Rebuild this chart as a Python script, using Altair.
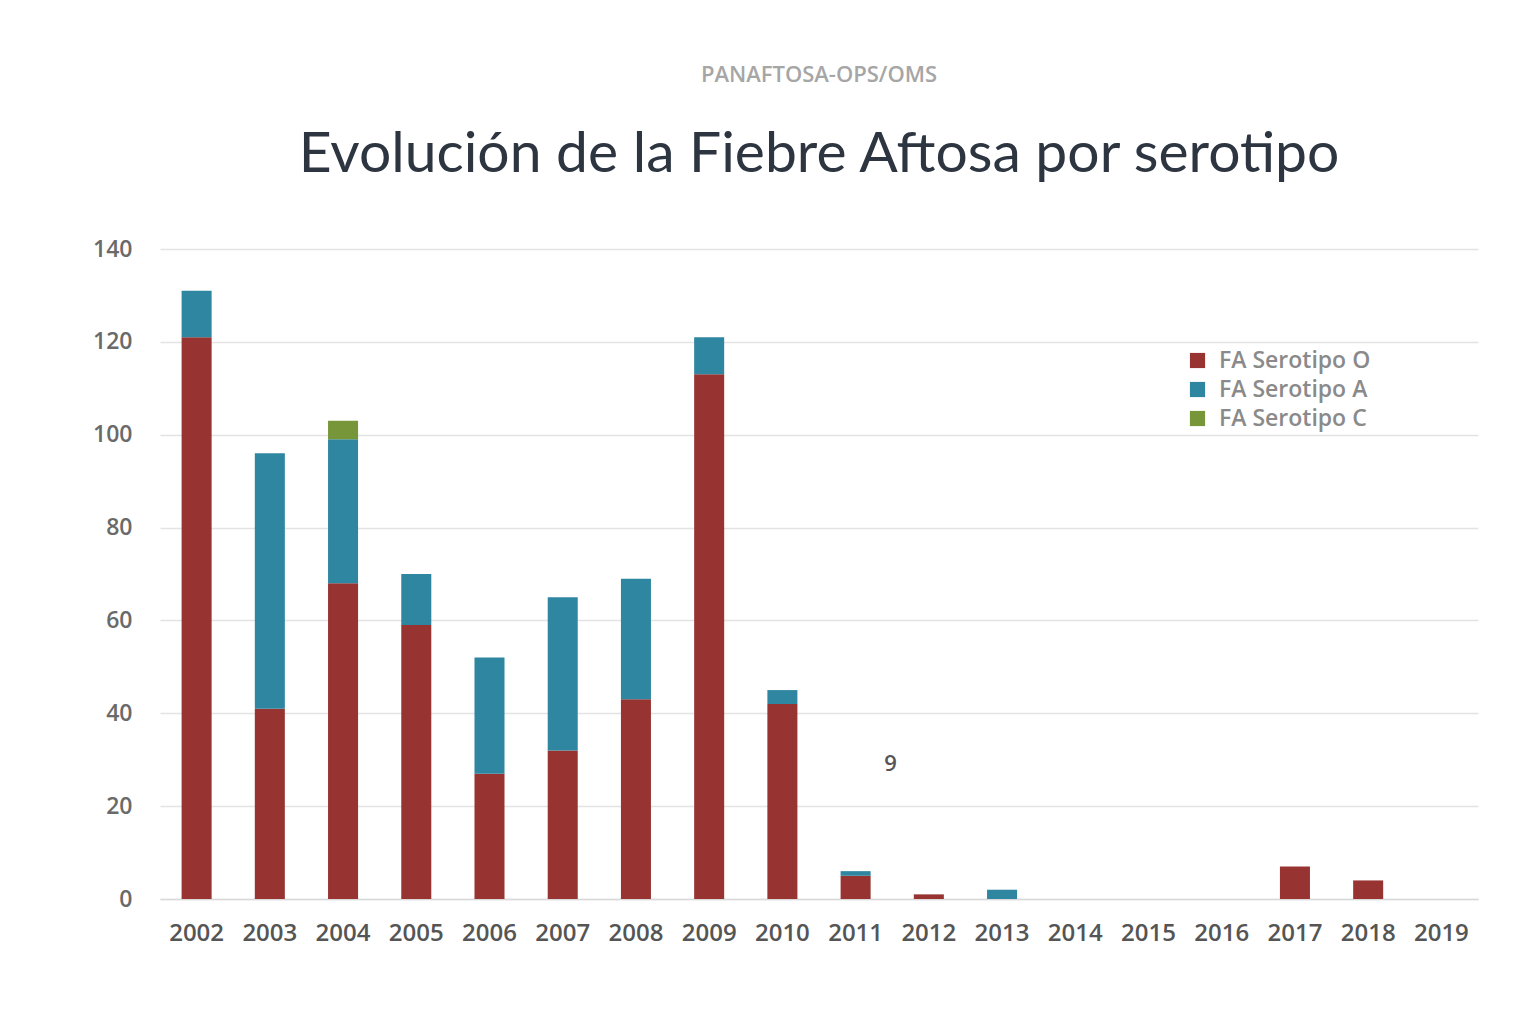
import altair as alt
import pandas as pd

years = [str(y) for y in range(2002, 2020)]
serotipo_o = [121, 41, 68, 59, 27, 32, 43, 113, 42, 5, 1, 0, 0, 0, 0, 7, 4, 0]
serotipo_a = [10, 55, 31, 11, 25, 33, 26, 8, 3, 1, 0, 2, 0, 0, 0, 0, 0, 0]
serotipo_c = [0, 0, 4, 0, 0, 0, 0, 0, 0, 0, 0, 0, 0, 0, 0, 0, 0, 0]
series_names = ["FA Serotipo O", "FA Serotipo A", "FA Serotipo C"]
series_colors = ["#973432", "#2f86a0", "#77963a"]

note_year = ["2011"]
note_value = [29]
note_text = ["9"]

rows = []
for i, y in enumerate(years):
    for k, vals in enumerate([serotipo_o, serotipo_a, serotipo_c]):
        rows.append({"year": y, "serie": series_names[k], "orden": k, "valor": vals[i]})
df = pd.DataFrame(rows)
notes = pd.DataFrame({"year": note_year, "valor": note_value, "txt": note_text})

FONT = "Open Sans"

x_enc = alt.X(
    "year:N",
    sort=years,
    scale=alt.Scale(paddingInner=0.59, paddingOuter=0.295),
    axis=alt.Axis(
        title=None, labelAngle=0, ticks=False, grid=False, domainColor="#d9d9d9", domainWidth=1.5,
        labelFont=FONT, labelFontSize=24, labelFontWeight=600, labelColor="#555555",
        labelPadding=22,
    ),
)

bars = alt.Chart(df).mark_bar().encode(
    x=x_enc,
    y=alt.Y(
        "valor:Q",
        stack="zero",
        scale=alt.Scale(domain=[0, 140]),
        axis=alt.Axis(
            title=None, values=[0, 20, 40, 60, 80, 100, 120, 140], ticks=False, domain=False,
            gridColor="#e3e3e3", gridWidth=1.5, labelFont=FONT, labelFontSize=23,
            labelFontWeight=600, labelColor="#6a6a6a", labelPadding=28,
        ),
    ),
    color=alt.Color(
        "serie:N",
        sort=series_names,
        scale=alt.Scale(domain=series_names, range=series_colors),
        legend=alt.Legend(
            title=None, orient="none", legendX=1026, legendY=100, symbolType="square",
            symbolSize=230, symbolStrokeWidth=0, labelFont=FONT, labelFontSize=23,
            labelFontWeight=600, labelColor="#8a8a8a", rowPadding=5, labelOffset=10,
        ),
    ),
    order=alt.Order("orden:Q", sort="ascending"),
)

note = alt.Chart(notes).mark_text(
    font=FONT, fontSize=22, fontWeight=600, color="#555555", dx=35
).encode(
    x=alt.X("year:N", sort=years),
    y=alt.Y("valor:Q"),
    text="txt:N",
)

chart = alt.layer(bars, note).properties(
    width=1318,
    height=650,
    background="white",
    title=alt.TitleParams(
        text="PANAFTOSA-OPS/OMS",
        subtitle="Evolución de la Fiebre Aftosa por serotipo",
        font=FONT, fontSize=22, fontWeight=600, color="#a6a6a6",
        subtitleFont="Lato", subtitleFontSize=57, subtitleColor="#2d3540",
        subtitlePadding=40, offset=54, anchor="middle",
    ),
    padding={"left": 84, "top": 56, "right": 40, "bottom": 60},
).configure_view(stroke=None, strokeWidth=0)

chart.save("out.html", embed_options={"renderer": "svg", "actions": False})
